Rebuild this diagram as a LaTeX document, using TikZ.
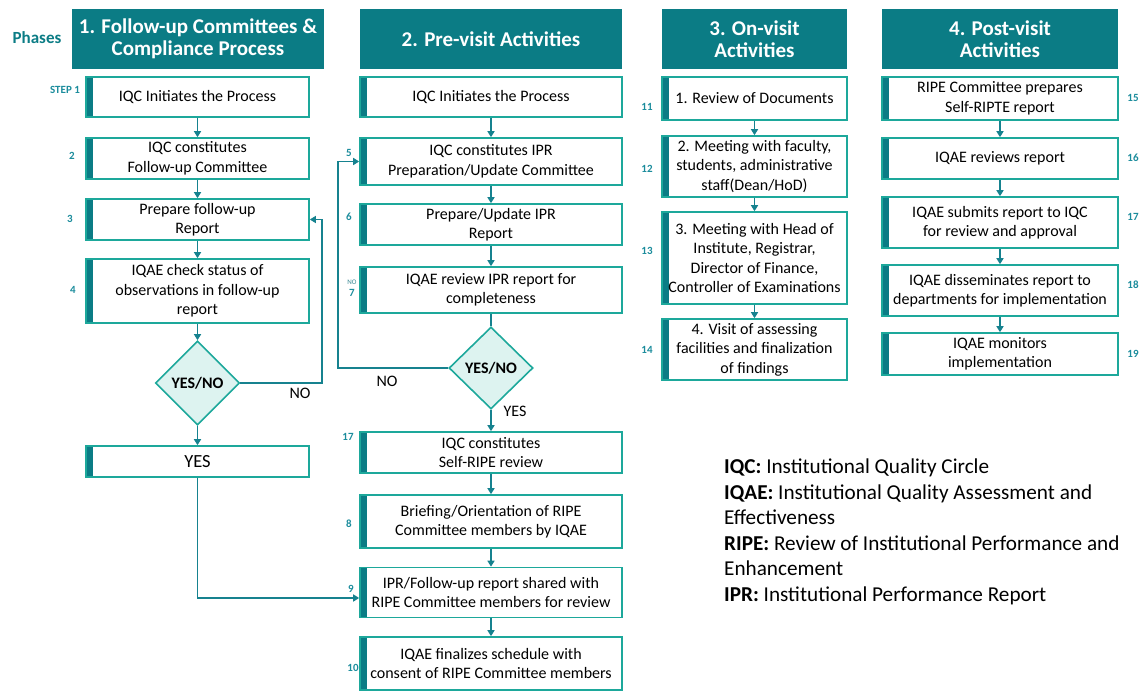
\documentclass[tikz,border=0pt]{standalone}
\usepackage{fontspec}
\setmainfont{Carlito}
\usetikzlibrary{arrows.meta,shapes.geometric}

\definecolor{headc}{HTML}{0B7C85}
\definecolor{edgec}{HTML}{1DA89B}
\definecolor{barc}{HTML}{0B7C85}
\definecolor{arrc}{HTML}{16828F}
\definecolor{numc}{HTML}{1B8C9C}
\definecolor{diac}{HTML}{DDF3F0}

\tikzset{
  header/.style={fill=headc, text=white, align=center, inner sep=2pt,
    font=\fontsize{21}{22}\selectfont\bfseries},
  stepbox/.style={draw=edgec, line width=1.6pt, fill=white, align=center, inner sep=2pt,
    font=\fontsize{16}{19.5}\selectfont,
    path picture={\fill[barc] (path picture bounding box.south west)
      rectangle ([xshift=6.5pt]path picture bounding box.north west);}},
  decision/.style={diamond, draw=edgec, line width=1.6pt, fill=diac, inner sep=0pt,
    font=\fontsize{16}{18}\selectfont\bfseries},
  stepno/.style={text=numc, inner sep=0pt, font=\fontsize{11}{12}\selectfont\bfseries},
  arr/.style={draw=arrc, line width=1.6pt, -{Triangle[length=6pt,width=7pt]}},
  plain/.style={draw=arrc, line width=1.6pt},
  lbl/.style={inner sep=0pt, font=\fontsize{16}{18}\selectfont},
}

\begin{document}
\begin{tikzpicture}[x=1pt,y=-1pt]
\useasboundingbox (0,0) rectangle (1141,693);

% phase label and headers
\node[text=headc, inner sep=0pt, font=\fontsize{17}{18}\selectfont\bfseries] (phases) at (37,38) {Phases};
\node[header, minimum width=252pt, minimum height=60pt] (h1) at (198,39) {1. Follow-up Committees \&\\Compliance Process};
\node[header, minimum width=262pt, minimum height=60pt] (h2) at (491,39) {2. Pre-visit Activities};
\node[header, minimum width=185pt, minimum height=60pt] (h3) at (754.5,39) {3. On-visit\\Activities};
\node[header, minimum width=236pt, minimum height=60pt] (h4) at (1000,39) {4. Post-visit\\Activities};

% phase 1
\node[stepbox, minimum width=223pt, minimum height=40pt] (c1a) at (197.5,97) {IQC Initiates the Process};
\node[stepbox, minimum width=223pt, minimum height=41pt] (c1b) at (197.5,158.5) {IQC constitutes\\Follow-up Committee};
\node[stepbox, minimum width=223pt, minimum height=41pt] (c1c) at (197.5,219.5) {Prepare follow-up\\Report};
\node[stepbox, minimum width=223pt, minimum height=64pt] (c1d) at (197.5,291) {IQAE check status of\\observations in follow-up\\report};
\node[decision, minimum width=84pt, minimum height=84pt] (d1) at (197.5,383) {YES/NO};
\node[stepbox, minimum width=223pt, minimum height=31pt, font=\fontsize{18.5}{20}\selectfont] (c1e) at (197.5,461.5) {YES};

\node[stepno] (s1) at (65,90) {STEP 1};
\node[stepno] (s2) at (72,156) {2};
\node[stepno] (s3) at (70,219) {3};
\node[stepno] (s4) at (73,290) {4};

\draw[arr] (c1a) -- (c1b);
\draw[arr] (c1b) -- (c1c);
\draw[arr] (c1c) -- (c1d);
\draw[arr] (c1d) -- (d1);
\draw[arr] (d1) -- (c1e);
\draw[arr] (d1.east) -| ([xshift=12pt]c1c.east) -- (c1c.east);
\node[lbl] (no1) at (300,393) {NO};

% phase 2
\node[stepbox, minimum width=262pt, minimum height=40pt] (c2a) at (491,97) {IQC Initiates the Process};
\node[stepbox, minimum width=262pt, minimum height=47pt] (c2b) at (491,161.5) {IQC constitutes IPR\\Preparation/Update Committee};
\node[stepbox, minimum width=262pt, minimum height=41pt] (c2c) at (491,224.5) {Prepare/Update IPR\\Report};
\node[stepbox, minimum width=262pt, minimum height=46pt] (c2d) at (491,290) {IQAE review IPR report for\\completeness};
\node[decision, minimum width=84pt, minimum height=82pt] (d2) at (491,368) {YES/NO};
\node[stepbox, minimum width=262pt, minimum height=41pt] (c2e) at (491,452.5) {IQC constitutes\\Self-RIPE review};
\node[stepbox, minimum width=262pt, minimum height=53pt] (c2f) at (491,521.5) {Briefing/Orientation of RIPE\\Committee members by IQAE};
\node[stepbox, minimum width=262pt, minimum height=50pt] (c2g) at (491,592.5) {IPR/Follow-up report shared with\\RIPE Committee members for review};
\node[stepbox, minimum width=262pt, minimum height=53pt] (c2h) at (491,663.5) {IQAE finalizes schedule with\\consent of RIPE Committee members};

\node[stepno] (s5) at (349,153) {5};
\node[stepno] (s6) at (349,217) {6};
\node[inner sep=0pt, text=numc!70!gray, font=\fontsize{7}{8}\selectfont] (s7no) at (352,282) {NO};
\node[stepno] (s7) at (352,293) {7};
\node[stepno] (s17) at (348,437) {17};
\node[stepno] (s8) at (349,524) {8};
\node[stepno] (s9) at (351,589) {9};
\node[stepno] (s10) at (353,668) {10};

\draw[arr] (c2a) -- (c2b);
\draw[arr] (c2b) -- (c2c);
\draw[arr] (c2c) -- (c2d);
\draw[plain] (c2d) -- (d2);
\draw[arr] (d2) -- (c2e);
\draw[arr] (c2e) -- (c2f);
\draw[arr] (c2f) -- (c2g);
\draw[arr] (c2g) -- (c2h);
\draw[arr] (d2.west) -| ([xshift=-21pt]c2b.west) -- (c2b.west);
\draw[arr] (c1e.south) |- ([yshift=-5.5pt]c2g.west);
\node[lbl] (no2) at (387,381) {NO};
\node[lbl] (yes2) at (515,411) {YES};

% phase 3
\node[stepbox, minimum width=185pt, minimum height=43pt] (c3a) at (754.5,98.5) {1. Review of Documents};
\node[stepbox, minimum width=185pt, minimum height=61pt] (c3b) at (754.5,166.5) {2. Meeting with faculty,\\students, administrative\\staff(Dean/HoD)};
\node[stepbox, minimum width=185pt, minimum height=92pt] (c3c) at (754.5,258) {3. Meeting with Head of\\Institute, Registrar,\\Director of Finance,\\Controller of Examinations};
\node[stepbox, minimum width=185pt, minimum height=61pt] (c3d) at (754.5,349.5) {4. Visit of assessing\\facilities and finalization\\of findings};

\node[stepno] (s11) at (647,107) {11};
\node[stepno] (s12) at (647,169) {12};
\node[stepno] (s13) at (647,251) {13};
\node[stepno] (s14) at (647,350) {14};

\draw[arr] (c3a) -- (c3b);
\draw[arr] (c3b) -- (c3c);
\draw[arr] (c3c) -- (c3d);

% phase 4
\node[stepbox, minimum width=236pt, minimum height=43pt] (c4a) at (1000,98.5) {RIPE Committee prepares\\Self-RIPTE report};
\node[stepbox, minimum width=236pt, minimum height=41pt] (c4b) at (1000,158.5) {IQAE reviews report};
\node[stepbox, minimum width=236pt, minimum height=51pt] (c4c) at (1000,222.5) {IQAE submits report to IQC\\for review and approval};
\node[stepbox, minimum width=236pt, minimum height=51pt] (c4d) at (1000,290.5) {IQAE disseminates report to\\departments for implementation};
\node[stepbox, minimum width=236pt, minimum height=42pt] (c4e) at (1000,354) {IQAE monitors\\implementation};

\node[stepno] (s15) at (1133,98) {15};
\node[stepno] (s16) at (1133,158) {16};
\node[stepno] (s17b) at (1133,217) {17};
\node[stepno] (s18) at (1133,285) {18};
\node[stepno] (s19) at (1133,354) {19};

\draw[arr] (c4a) -- (c4b);
\draw[arr] (c4b) -- (c4c);
\draw[arr] (c4c) -- (c4d);
\draw[arr] (c4d) -- (c4e);

% abbreviations
\node[anchor=north west, align=left, inner sep=0pt, font=\fontsize{21.2}{25.5}\selectfont] (legend) at (724,459)
{\textbf{IQC:} Institutional Quality Circle\\
\textbf{IQAE:} Institutional Quality Assessment and\\
Effectiveness\\
\textbf{RIPE:} Review of Institutional Performance and\\
Enhancement\\
\textbf{IPR:} Institutional Performance Report};
\end{tikzpicture}
\end{document}
